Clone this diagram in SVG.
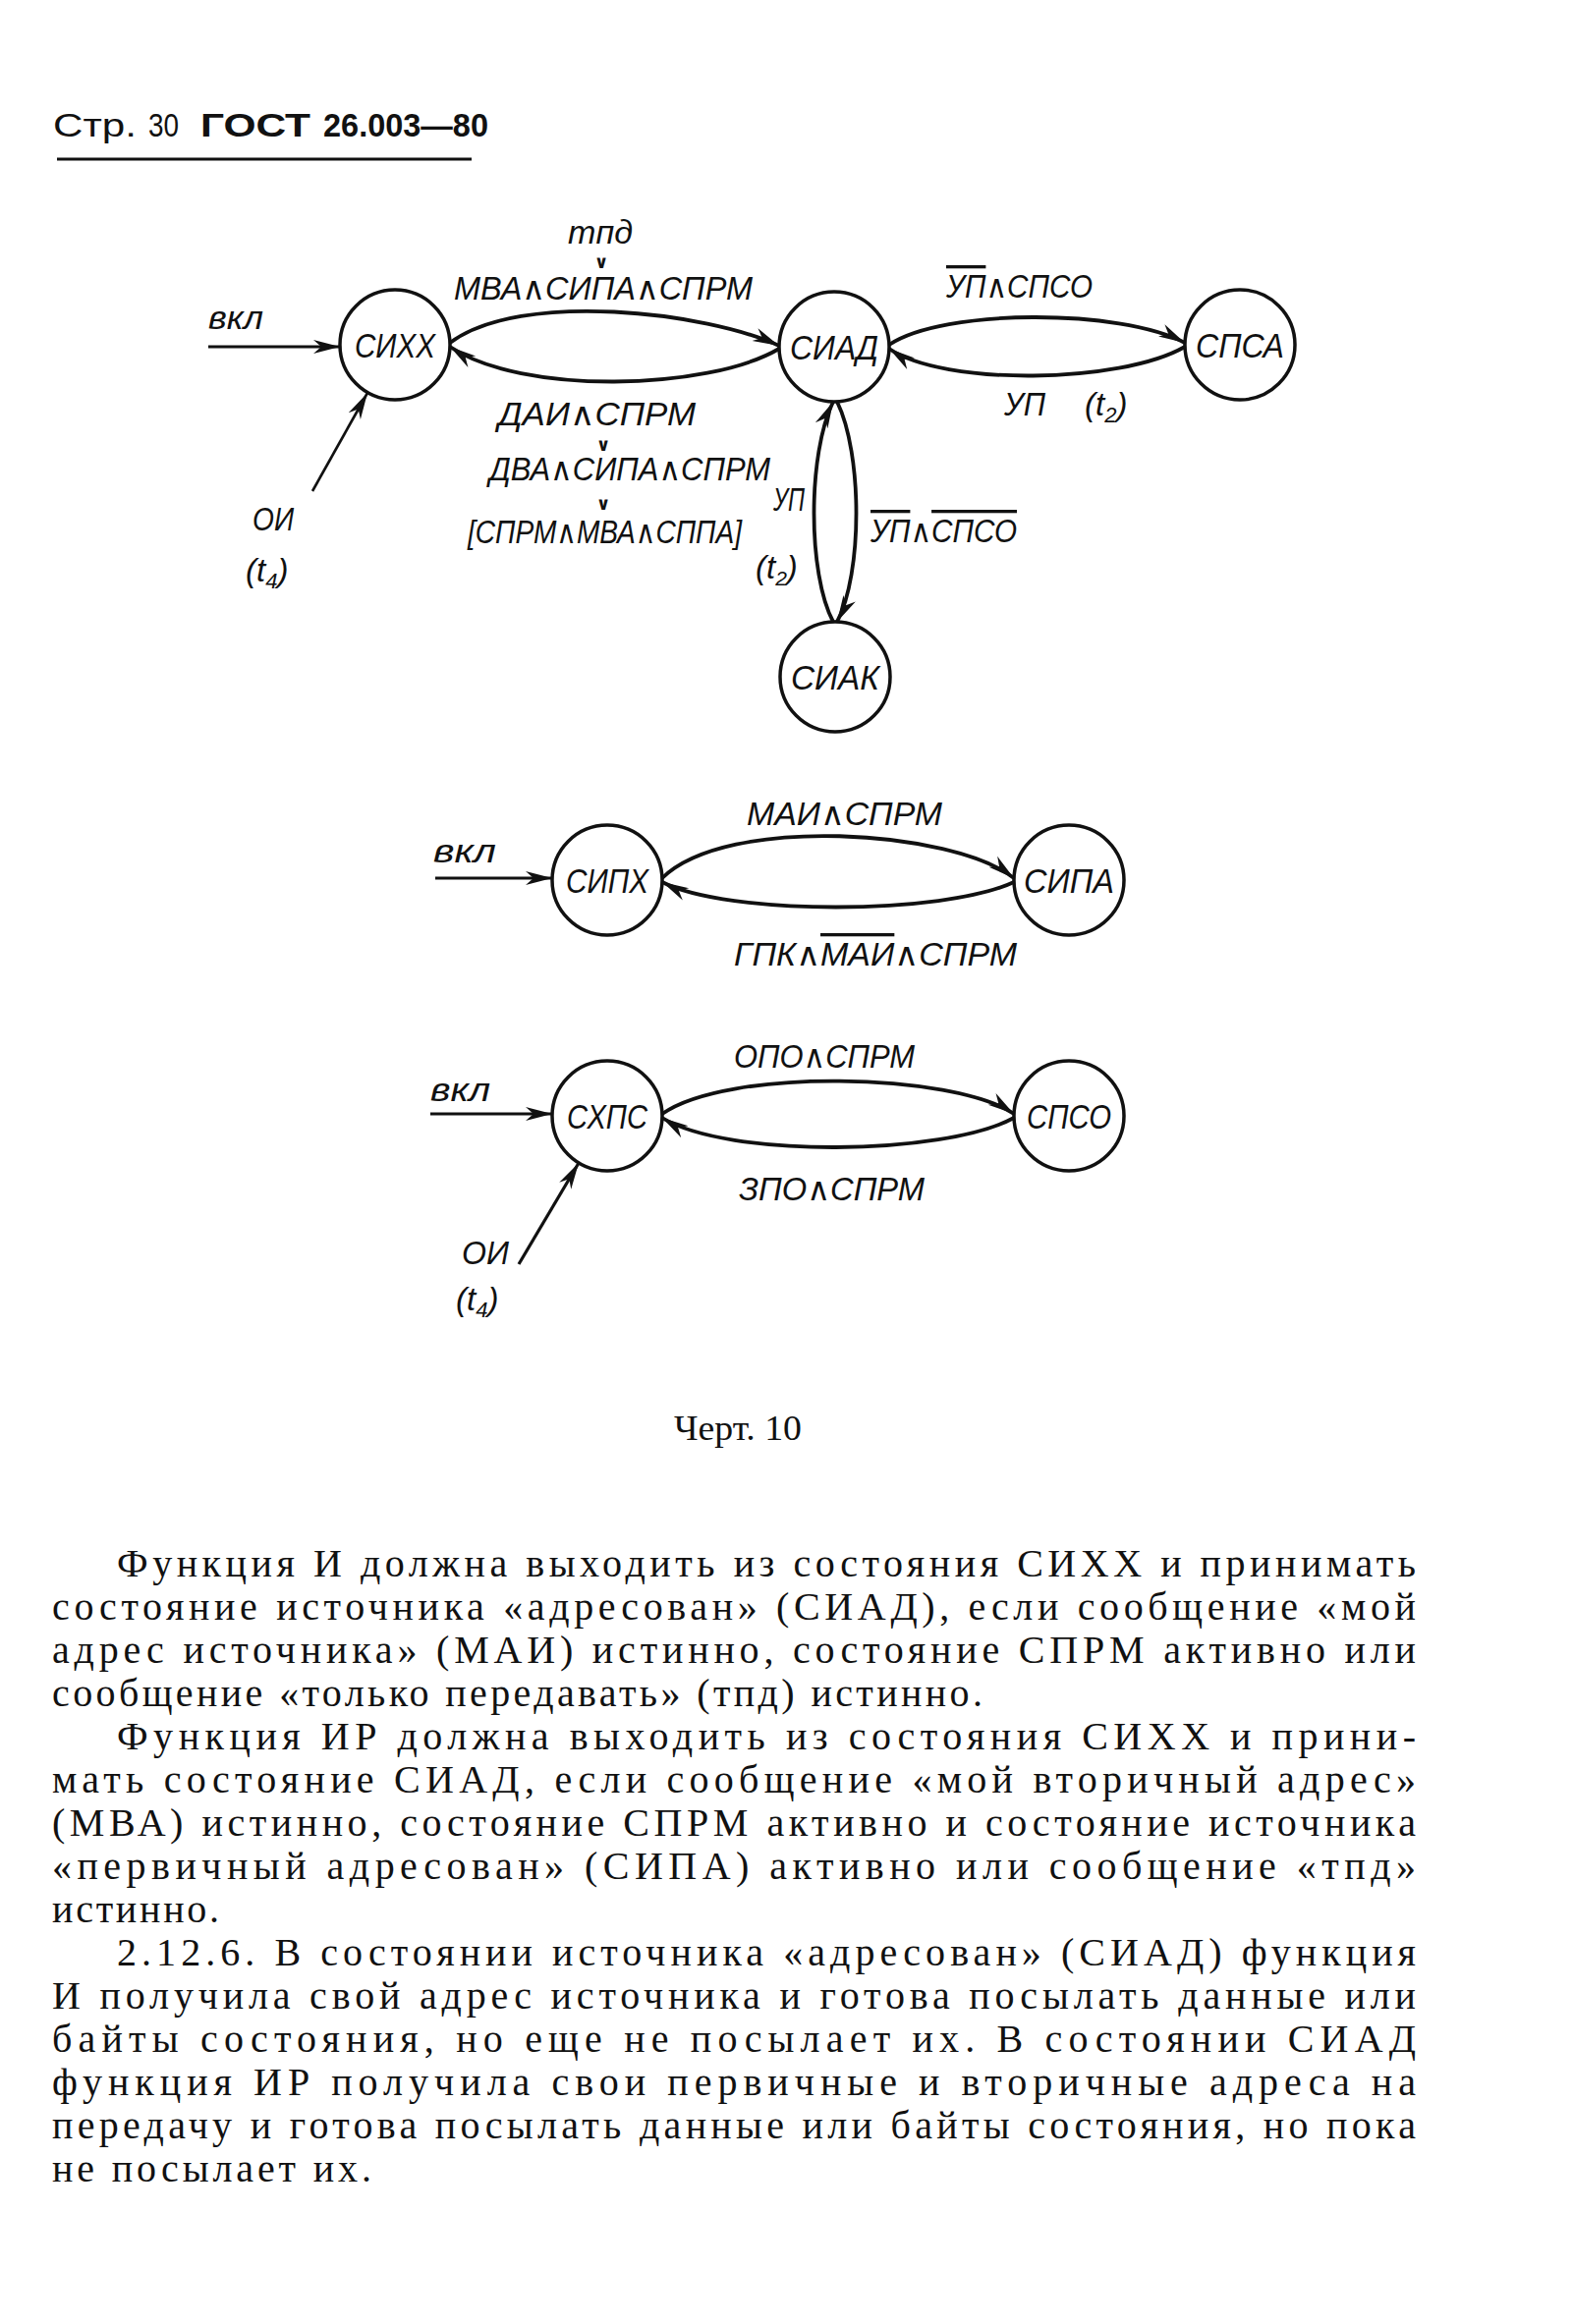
<svg xmlns="http://www.w3.org/2000/svg" width="1600" height="2366" viewBox="0 0 1600 2366">
<defs>
<marker id="ah" markerUnits="userSpaceOnUse" markerWidth="28" markerHeight="16" viewBox="0 0 28 16" refX="27" refY="8" orient="auto">
<path d="M0,1 L27,8 L0,15 L8,8 Z" fill="#111"/>
</marker>
<style>
.node circle{fill:none;stroke:#111;stroke-width:3.5}
.nl{font-family:"Liberation Sans","DejaVu Sans",sans-serif;font-style:italic;font-size:35px;fill:#111;text-anchor:middle}
.lbl{font-family:"Liberation Sans","DejaVu Sans",sans-serif;font-style:italic;font-size:33px;fill:#111}
.op{font-family:"DejaVu Sans",sans-serif;font-size:18px;font-weight:bold;fill:#111;text-anchor:middle}
.edge{fill:none;stroke:#111;stroke-width:3.8;marker-end:url(#ah)}
.body{font-family:"Liberation Serif","DejaVu Serif",serif;font-size:40px;fill:#111}
.ov{text-decoration:overline}
.hd{font-family:"Liberation Sans","DejaVu Sans",sans-serif;font-size:33px;fill:#111}
</style>
</defs>
<rect width="1600" height="2366" fill="#fff"/>

<g id="header">
<text class="hd" x="54" y="139" textLength="85" lengthAdjust="spacingAndGlyphs">Стр.</text>
<text class="hd" x="151" y="139" textLength="31" lengthAdjust="spacingAndGlyphs">30</text>
<text class="hd" x="204" y="139" font-weight="bold" textLength="112" lengthAdjust="spacingAndGlyphs">ГОСТ</text>
<text class="hd" x="329" y="139" font-weight="bold" textLength="168" lengthAdjust="spacingAndGlyphs">26.003—80</text>
<line x1="58" y1="162" x2="480" y2="162" stroke="#111" stroke-width="3"/>
</g>

<g id="n-sixx" class="node"><circle cx="402" cy="351" r="56"/><text class="nl" x="402" y="364" textLength="82" lengthAdjust="spacingAndGlyphs">СИХХ</text></g>
<g id="n-siad" class="node"><circle cx="849" cy="353" r="56"/><text class="nl" x="849" y="366" textLength="90" lengthAdjust="spacingAndGlyphs">СИАД</text></g>
<g id="n-spsa" class="node"><circle cx="1262" cy="351" r="56"/><text class="nl" x="1262" y="364" textLength="90" lengthAdjust="spacingAndGlyphs">СПСА</text></g>
<g id="n-siak" class="node"><circle cx="850" cy="689" r="56"/><text class="nl" x="850" y="702" textLength="90" lengthAdjust="spacingAndGlyphs">СИАК</text></g>
<g id="n-sipx" class="node"><circle cx="618" cy="896" r="56"/><text class="nl" x="618" y="909" textLength="84" lengthAdjust="spacingAndGlyphs">СИПХ</text></g>
<g id="n-sipa" class="node"><circle cx="1088" cy="896" r="56"/><text class="nl" x="1088" y="909" textLength="92" lengthAdjust="spacingAndGlyphs">СИПА</text></g>
<g id="n-sxps" class="node"><circle cx="618" cy="1136" r="56"/><text class="nl" x="618" y="1149" textLength="82" lengthAdjust="spacingAndGlyphs">СХПС</text></g>
<g id="n-spso" class="node"><circle cx="1088" cy="1136" r="56"/><text class="nl" x="1088" y="1149" textLength="86" lengthAdjust="spacingAndGlyphs">СПСО</text></g>

<g id="connectors">
<path class="edge" d="M458,349 C530,295 720,318 793,352"/>
<path class="edge" d="M793,355 C720,398 530,402 458,353"/>
<path class="edge" d="M905,351 C960,314 1140,314 1206,349"/>
<path class="edge" d="M1206,353 C1140,391 960,393 905,355"/>
<path class="edge" d="M848,633 C822,584 822,462 848,409"/>
<path class="edge" d="M852,409 C878,462 878,584 852,633"/>
<path class="edge" d="M212,353 L346,353" style="stroke-width:3.2"/>
<path class="edge" d="M318,500 L374,400" style="stroke-width:2.6"/>
<path class="edge" d="M674,894 C740,829 970,845 1032,894"/>
<path class="edge" d="M1032,898 C960,932 740,932 674,898"/>
<path class="edge" d="M443,894 L562,894" style="stroke-width:3.2"/>
<path class="edge" d="M674,1134 C740,1087 970,1092 1032,1134"/>
<path class="edge" d="M1032,1138 C960,1177 740,1179 674,1138"/>
<path class="edge" d="M438,1134 L562,1134" style="stroke-width:3.2"/>
<path class="edge" d="M528,1287 L589,1184" style="stroke-width:3.2"/>
</g>

<g id="labels">
<text class="lbl" x="578" y="248" font-size="32" textLength="66" lengthAdjust="spacingAndGlyphs">тпд</text>
<text class="op" x="612" y="273">∨</text>
<text class="lbl" x="462" y="305" font-size="31" textLength="304" lengthAdjust="spacingAndGlyphs">МВА∧СИПА∧СПРМ</text>
<text class="lbl" x="212" y="335" font-size="34" textLength="56" lengthAdjust="spacingAndGlyphs">вкл</text>
<text class="lbl" x="507" y="433" font-size="31" textLength="201" lengthAdjust="spacingAndGlyphs">ДАИ∧СПРМ</text>
<text class="op" x="614" y="459">∨</text>
<text class="lbl" x="498" y="489" font-size="31" textLength="286" lengthAdjust="spacingAndGlyphs">ДВА∧СИПА∧СПРМ</text>
<text class="op" x="614" y="519">∨</text>
<text class="lbl" x="476" y="553" font-size="28" textLength="279" lengthAdjust="spacingAndGlyphs">[СПРМ∧МВА∧СППА]</text>
<text class="lbl" x="787" y="520" font-size="26" textLength="32" lengthAdjust="spacingAndGlyphs">УП</text>
<text class="lbl" x="769" y="589" font-size="31">(t<tspan font-size="21" dy="7">2</tspan><tspan dy="-7">)</tspan></text>
<text class="lbl" x="257" y="540" textLength="42" lengthAdjust="spacingAndGlyphs">ОИ</text>
<text class="lbl" x="250" y="592">(t<tspan font-size="22" dy="7">4</tspan><tspan dy="-7">)</tspan></text>
<text class="lbl" x="963" y="303" textLength="149" lengthAdjust="spacingAndGlyphs"><tspan class="ov">УП</tspan>∧СПСО</text>
<text class="lbl" x="1022" y="423" textLength="42" lengthAdjust="spacingAndGlyphs">УП</text>
<text class="lbl" x="1104" y="423">(t<tspan font-size="22" dy="7">2</tspan><tspan dy="-7">)</tspan></text>
<text class="lbl" x="886" y="552" textLength="149" lengthAdjust="spacingAndGlyphs"><tspan class="ov">УП</tspan>∧<tspan class="ov">СПСО</tspan></text>

<text class="lbl" x="441" y="878" font-size="34" textLength="64" lengthAdjust="spacingAndGlyphs">вкл</text>
<text class="lbl" x="760" y="840" textLength="199" lengthAdjust="spacingAndGlyphs">МАИ∧СПРМ</text>
<text class="lbl" x="747" y="983" textLength="288" lengthAdjust="spacingAndGlyphs">ГПК∧<tspan class="ov">МАИ</tspan>∧СПРМ</text>

<text class="lbl" x="438" y="1121" font-size="34" textLength="61" lengthAdjust="spacingAndGlyphs">вкл</text>
<text class="lbl" x="747" y="1087" textLength="184" lengthAdjust="spacingAndGlyphs">ОПО∧СПРМ</text>
<text class="lbl" x="752" y="1222" textLength="189" lengthAdjust="spacingAndGlyphs">ЗПО∧СПРМ</text>
<text class="lbl" x="470" y="1287" textLength="48" lengthAdjust="spacingAndGlyphs">ОИ</text>
<text class="lbl" x="464" y="1334">(t<tspan font-size="22" dy="7">4</tspan><tspan dy="-7">)</tspan></text>
</g>

<g id="caption">
<text x="686" y="1466" font-family="Liberation Serif, DejaVu Serif, serif" font-size="35" fill="#111" textLength="130" lengthAdjust="spacingAndGlyphs">Черт. 10</text>
</g>

<g id="bodytext">
<text class="body" x="119" y="1605" textLength="1322" lengthAdjust="spacing">Функция И должна выходить из состояния СИХХ и принимать</text>
<text class="body" x="53" y="1649" textLength="1388" lengthAdjust="spacing">состояние источника «адресован» (СИАД), если сообщение «мой</text>
<text class="body" x="53" y="1693" textLength="1388" lengthAdjust="spacing">адрес источника» (МАИ) истинно, состояние СПРМ активно или</text>
<text class="body" x="53" y="1737" textLength="947" lengthAdjust="spacing">сообщение «только передавать» (тпд) истинно.</text>
<text class="body" x="119" y="1781" textLength="1322" lengthAdjust="spacing">Функция ИР должна выходить из состояния СИХХ и прини-</text>
<text class="body" x="53" y="1825" textLength="1388" lengthAdjust="spacing">мать состояние СИАД, если сообщение «мой вторичный адрес»</text>
<text class="body" x="53" y="1869" textLength="1388" lengthAdjust="spacing">(МВА) истинно, состояние СПРМ активно и состояние источника</text>
<text class="body" x="53" y="1913" textLength="1388" lengthAdjust="spacing">«первичный адресован» (СИПА) активно или сообщение «тпд»</text>
<text class="body" x="53" y="1957" textLength="170" lengthAdjust="spacing">истинно.</text>
<text class="body" x="119" y="2001" textLength="1322" lengthAdjust="spacing">2.12.6. В состоянии источника «адресован» (СИАД) функция</text>
<text class="body" x="53" y="2045" textLength="1388" lengthAdjust="spacing">И получила свой адрес источника и готова посылать данные или</text>
<text class="body" x="53" y="2089" textLength="1388" lengthAdjust="spacing">байты состояния, но еще не посылает их. В состоянии СИАД</text>
<text class="body" x="53" y="2133" textLength="1388" lengthAdjust="spacing">функция ИР получила свои первичные и вторичные адреса на</text>
<text class="body" x="53" y="2177" textLength="1388" lengthAdjust="spacing">передачу и готова посылать данные или байты состояния, но пока</text>
<text class="body" x="53" y="2221" textLength="325" lengthAdjust="spacing">не посылает их.</text>
</g>
</svg>
